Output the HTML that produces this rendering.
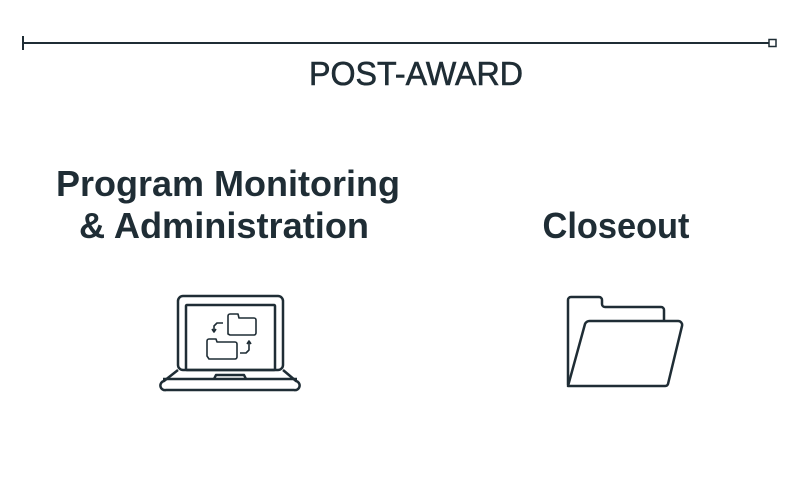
<!DOCTYPE html>
<html><head><meta charset="utf-8"><style>
html,body{margin:0;padding:0;background:#fff;}
svg{display:block;}
text{font-family:"Liberation Sans",sans-serif;fill:#1f2d35;}
</style></head><body>
<svg width="792" height="500" viewBox="0 0 792 500" xmlns="http://www.w3.org/2000/svg">
<g stroke="#1f2d35" stroke-width="2" fill="none">
<line x1="23" y1="43" x2="769" y2="43"/>
<line x1="23" y1="36" x2="23" y2="50"/>
<rect x="769" y="39.5" width="7" height="7" stroke-width="1.5"/>
</g>
<text x="416" y="85" font-size="33" text-anchor="middle" textLength="214" lengthAdjust="spacingAndGlyphs" stroke="#1f2d35" stroke-width="0.6">POST-AWARD</text>
<text x="228" y="196" font-size="36" font-weight="bold" text-anchor="middle" textLength="344" lengthAdjust="spacingAndGlyphs">Program Monitoring</text>
<text x="224" y="238" font-size="36" font-weight="bold" text-anchor="middle" textLength="290" lengthAdjust="spacingAndGlyphs">&amp; Administration</text>
<text x="616" y="238" font-size="36" font-weight="bold" text-anchor="middle" textLength="147" lengthAdjust="spacingAndGlyphs">Closeout</text>
<g stroke="#1f2d35" stroke-width="2.5" fill="none" stroke-linejoin="round">
<rect x="178" y="296" width="105" height="74" rx="5"/>
<rect x="186" y="305" width="89" height="65" rx="1"/>
<path d="M178 370 L164 381 A4 4 0 0 0 166 390 L294 390 A4 4 0 0 0 296 381 L283 370"/>
<line x1="163" y1="379" x2="297" y2="379"/>
<path d="M214 379 L216 375 L244 375 L246 379"/>
<g stroke-width="1.6">
<path d="M228 334 L228 316 A2 2 0 0 1 230 314 L238 314 L239 318 L254 318 A2 2 0 0 1 256 320 L256 333 A2 2 0 0 1 254 335 L230 335 Z"/>
<path d="M207 356 L207 341 A2 2 0 0 1 209 339 L216 339 L217 342 L235 342 A2 2 0 0 1 237 344 L237 357 A2 2 0 0 1 235 359 L209 359 Z"/>
<path d="M223 323 L217 323 L214 326 L214 331"/>
<path d="M212 329 L214 332 L216 329"/>
<path d="M240 353 L246 353 L249 350 L249 342"/>
<path d="M247 344 L249 341 L251 344"/>
</g>
<path d="M568 385 L568 300 A3 3 0 0 1 571 297 L599 297 A3 3 0 0 1 602 300 L602 304 A3 3 0 0 0 605 307 L661 307 A3 3 0 0 1 664 310 L664 321"/>
<path d="M568 386 L585 324 A5 5 0 0 1 590 321 L678 321 A4 4 0 0 1 682 326 L668 384 A3 3 0 0 1 665 386 Z"/>
</g>
</svg>
</body></html>
